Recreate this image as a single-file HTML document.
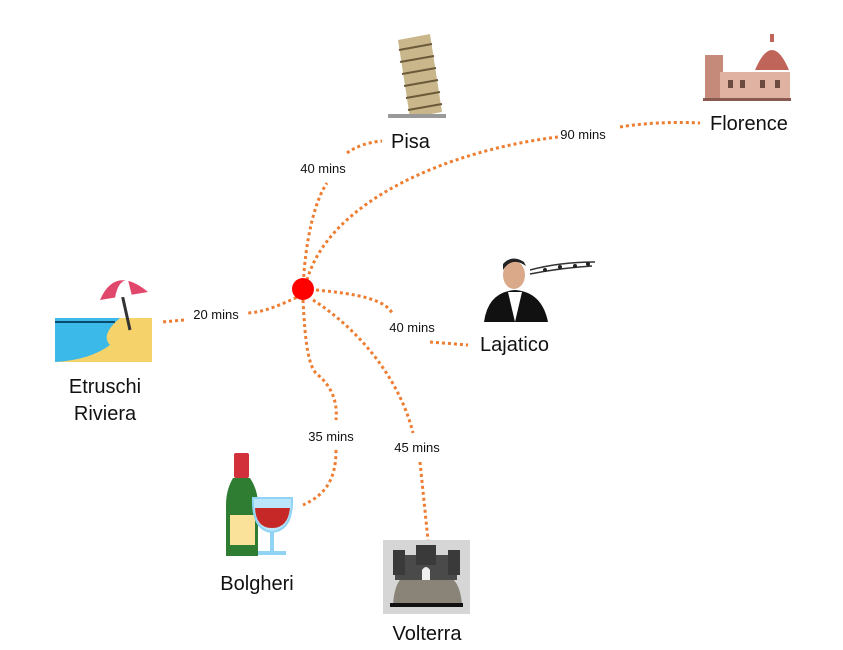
<!DOCTYPE html>
<html><head><meta charset="utf-8"><style>
body{margin:0;background:#fff;}
svg{display:block;font-family:"Liberation Sans",sans-serif;}
</style></head><body>
<svg width="843" height="650" viewBox="0 0 843 650" xmlns="http://www.w3.org/2000/svg">
<g fill="none" stroke="#ED7D31" stroke-width="3" stroke-dasharray="3 3">
<path d="M303,289 C305,240 315,200 327,183"/>
<path d="M347,153 C355,147 368,142 382,141"/>
<path d="M307,280 C330,200 450,150 558,137"/>
<path d="M620,127 C650,122 680,122 700,123"/>
<path d="M302,295 C280,305 265,312 248,313"/>
<path d="M184,320 L162,322"/>
<path d="M316,290 C360,294 385,300 392,313"/>
<path d="M430,342 L468,345"/>
<path d="M303,300 C305,340 308,368 318,375 C330,385 338,400 336,420"/>
<path d="M336,450 C336,480 325,495 303,505"/>
<path d="M313,300 C360,330 400,380 413,433"/>
<path d="M420,462 L428,540"/>
</g>
<circle cx="303" cy="289" r="11" fill="#FF0000"/>
<g font-size="13" fill="#111">
<text x="323" y="173" text-anchor="middle">40 mins</text>
<text x="583" y="139" text-anchor="middle">90 mins</text>
<text x="216" y="319" text-anchor="middle">20 mins</text>
<text x="412" y="332" text-anchor="middle">40 mins</text>
<text x="331" y="441" text-anchor="middle">35 mins</text>
<text x="417" y="452" text-anchor="middle">45 mins</text>
</g>
<g font-size="20" fill="#111">
<text x="391" y="148">Pisa</text>
<text x="710" y="130">Florence</text>
<text x="480" y="351">Lajatico</text>
<text x="105" y="393" text-anchor="middle">Etruschi</text>
<text x="105" y="420" text-anchor="middle">Riviera</text>
<text x="257" y="590" text-anchor="middle">Bolgheri</text>
<text x="427" y="640" text-anchor="middle">Volterra</text>
</g>
<!-- Pisa tower -->
<g>
<polygon points="398,40 430,34 442,112 410,118" fill="#C9B68A"/>
<g stroke="#6b5a3a" stroke-width="2">
<line x1="399" y1="50" x2="432" y2="44"/><line x1="400" y1="62" x2="434" y2="56"/>
<line x1="402" y1="74" x2="436" y2="68"/><line x1="404" y1="86" x2="438" y2="80"/>
<line x1="406" y1="98" x2="440" y2="92"/><line x1="408" y1="110" x2="442" y2="104"/>
</g>
<rect x="388" y="114" width="58" height="4" fill="#999"/>
</g>
<!-- Florence -->
<g>
<rect x="705" y="55" width="18" height="45" fill="#C58A7A"/>
<rect x="720" y="72" width="70" height="28" fill="#E0B2A2"/>
<path d="M755,70 Q772,30 789,70 Z" fill="#C0655A"/>
<rect x="770" y="34" width="4" height="8" fill="#C0655A"/>
<g fill="#6b4a40"><rect x="728" y="80" width="5" height="8"/><rect x="740" y="80" width="5" height="8"/><rect x="760" y="80" width="5" height="8"/><rect x="775" y="80" width="5" height="8"/></g>
<rect x="703" y="98" width="88" height="3" fill="#8a5a50"/>
</g>
<!-- Beach -->
<g>
<rect x="55" y="318" width="97" height="44" fill="#F6D36A"/>
<path d="M55,318 L120,318 Q100,335 110,345 Q90,360 55,362 Z" fill="#3BB9E8"/>
<path d="M55,322 L115,322" stroke="#0b4a6a" stroke-width="2"/>
<line x1="120" y1="285" x2="130" y2="330" stroke="#333" stroke-width="3"/>
<path d="M100,300 Q115,265 148,292 Z" fill="#E0476A"/>
<path d="M115,298 Q118,280 128,280 L132,296 Z" fill="#fff"/>
</g>
<!-- Singer -->
<g>
<path d="M484,322 Q488,292 515,290 Q542,292 548,322 Z" fill="#111"/>
<path d="M508,292 L515,322 L522,292 Z" fill="#fff"/>
<ellipse cx="514" cy="275" rx="11" ry="14" fill="#D9A98A"/>
<path d="M503,270 Q512,256 526,266 L524,262 Q512,254 503,264 Z" fill="#222"/>
<path d="M530,270 Q560,262 595,262" stroke="#333" stroke-width="1.5" fill="none"/>
<path d="M530,274 Q560,268 592,266" stroke="#333" stroke-width="1.5" fill="none"/>
<g fill="#222"><circle cx="545" cy="270" r="2"/><circle cx="560" cy="267" r="2"/><circle cx="575" cy="266" r="2"/><circle cx="588" cy="264" r="2"/></g>
</g>
<!-- Wine -->
<g>
<rect x="234" y="453" width="15" height="25" rx="2" fill="#D2303A"/>
<path d="M233,478 L250,478 Q258,490 258,505 L258,556 L226,556 L226,505 Q226,490 233,478 Z" fill="#2E7D32"/>
<rect x="230" y="515" width="25" height="30" fill="#FBE29A"/>
<path d="M253,498 L292,498 Q293,530 272,532 Q252,530 253,498 Z" fill="#BBE6FB" stroke="#8fd3f5" stroke-width="2"/>
<path d="M255,508 L290,508 Q288,528 272,528 Q256,528 255,508 Z" fill="#C62828"/>
<rect x="270" y="532" width="4" height="20" fill="#8fd3f5"/>
<rect x="258" y="551" width="28" height="4" fill="#8fd3f5"/>
</g>
<!-- Volterra -->
<g>
<rect x="383" y="540" width="87" height="74" fill="#d6d6d6"/>
<path d="M393,605 Q395,575 410,575 L445,575 Q460,578 462,605 Z" fill="#8a8378"/>
<rect x="390" y="603" width="73" height="4" fill="#111"/>
<rect x="395" y="555" width="62" height="25" fill="#4a4a4a"/>
<rect x="416" y="545" width="20" height="20" fill="#3a3a3a"/>
<rect x="393" y="550" width="12" height="25" fill="#3a3a3a"/>
<rect x="448" y="550" width="12" height="25" fill="#3a3a3a"/>
<path d="M422,580 L422,570 Q426,564 430,570 L430,580 Z" fill="#eee"/>
</g>
</svg>
</body></html>
